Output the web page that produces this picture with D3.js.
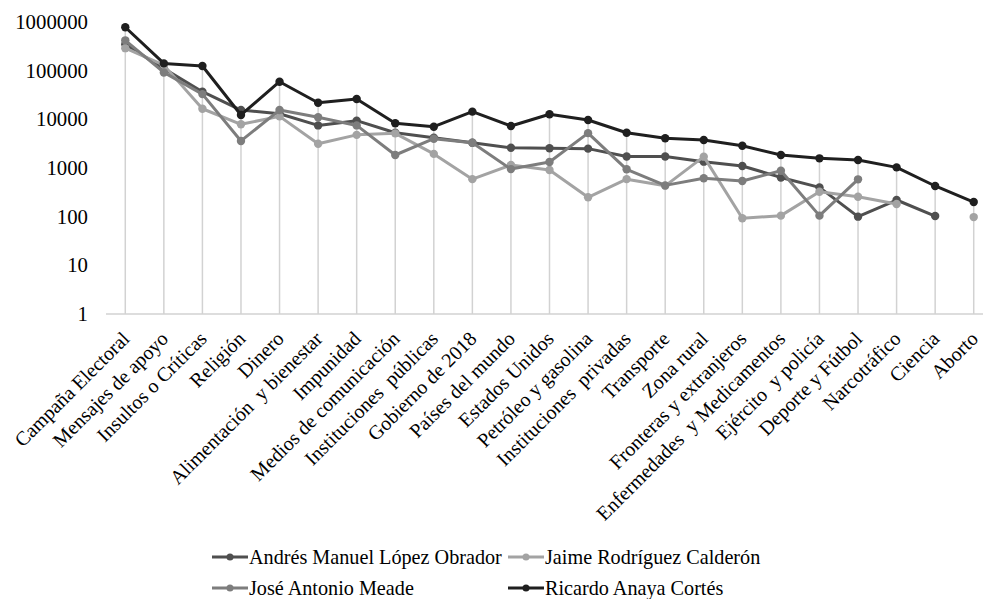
<!DOCTYPE html>
<html>
<head>
<meta charset="utf-8">
<script src="https://cdn.jsdelivr.net/npm/d3@7"></script>
<style>
  html, body { margin: 0; padding: 0; background: #fff; }
  svg { display: block; }
</style>
</head>
<body>
<svg id="chart" width="983" height="599"></svg>
<script>
// Topics, ordered by volume
const categories = [
  "Campaña Electoral", "Mensajes de apoyo", "Insultos o Críticas", "Religión", "Dinero",
  "Alimentación  y bienestar", "Impunidad", "Medios de comunicación", "Instituciones  públicas",
  "Gobierno de 2018", "Países del mundo", "Estados Unidos", "Petróleo y gasolina",
  "Instituciones  privadas", "Transporte", "Zona rural", "Fronteras y extranjeros",
  "Enfermedades  y Medicamentos", "Ejército  y policía", "Deporte y Fútbol", "Narcotráfico",
  "Ciencia", "Aborto"
];

// Counts per candidate (null = no data for that topic)
const amlo = [350000, 110000, 37000, 15500, 13000, 7500, 9400, 5300, 4200, 3300, 2600, 2540, 2500,
  1720, 1720, 1350, 1100, 640, 400, 100, 220, 103, null];
const jaime = [290000, 130000, 16500, 7900, 11500, 3150, 4800, 5150, 1950, 590, 1150, 910, 250,
  590, 430, 1710, 93, 105, 326, 257, 182, null, 98];
const meade = [420000, 92000, 33000, 3600, 15500, 11000, 7500, 1850, 4000, 3300, 950, 1330, 5200,
  940, 440, 614, 540, 880, 105, 585, null, null, null];
const anaya = [780000, 141000, 125000, 12300, 59300, 21900, 26200, 8300, 7060, 14400, 7300, 12700,
  9700, 5300, 4080, 3760, 2870, 1850, 1580, 1460, 1030, 427, 200];

const seriesNames = ["Andrés Manuel López Obrador", "Jaime Rodríguez Calderón",
  "José Antonio Meade", "Ricardo Anaya Cortés"];
const seriesValues = [amlo, jaime, meade, anaya];
const seriesColors = ["#4f4f4f", "#a3a3a3", "#7d7d7d", "#1f1f1f"];

const yTicks = [1, 10, 100, 1000, 10000, 100000, 1000000];

const serif = "'Liberation Serif', 'Times New Roman', Tinos, serif";

const svg = d3.select("#chart");

const x = d3.scalePoint().domain(categories).range([106, 993]).padding(0.5);
const y = d3.scaleLog().domain([1, 1000000]).range([314, 22]);

// Drop lines from each topic's highest value down to the axis
const maxima = categories.map((c, i) => d3.max(seriesValues, s => s[i]));
svg.append("g").selectAll("line").data(categories).join("line")
  .attr("x1", d => x(d)).attr("x2", d => x(d))
  .attr("y1", (d, i) => y(maxima[i])).attr("y2", y(1))
  .attr("stroke", "#d2d2d2").attr("stroke-width", 1.5);

// Horizontal axis line
svg.append("line")
  .attr("x1", 106).attr("x2", 993).attr("y1", y(1)).attr("y2", y(1))
  .attr("stroke", "#d2d2d2").attr("stroke-width", 1.5);

// Y axis labels
const yAxis = d3.axisLeft(y).tickValues(yTicks).tickFormat(d3.format("d")).tickSize(0).tickPadding(0);
const yg = svg.append("g").attr("transform", "translate(88,0)").call(yAxis);
yg.select(".domain").remove();
yg.selectAll("text").style("font-family", serif).attr("font-size", 20.8).attr("fill", "#000");

// X axis labels, rotated
const xAxis = d3.axisBottom(x).tickSize(0).tickPadding(0);
const xg = svg.append("g").attr("transform", `translate(0,${y(1)})`).call(xAxis);
xg.select(".domain").remove();
xg.selectAll("text")
  .style("font-family", serif)
  .attr("font-size", 20)
  .attr("fill", "#000")
  .attr("text-anchor", "end")
  .attr("dy", null).attr("y", 0)
  .attr("transform", "translate(5,26) rotate(-45)")
  .attr("xml:space", "preserve")
  .style("white-space", "pre");

// Series lines and markers
const line = d3.line()
  .defined(d => d.v != null)
  .x(d => x(d.c)).y(d => y(d.v));

seriesValues.forEach((vals, k) => {
  const pts = vals.map((v, i) => ({ c: categories[i], v }));
  svg.append("path")
    .datum(pts)
    .attr("d", line)
    .attr("fill", "none")
    .attr("stroke", seriesColors[k])
    .attr("stroke-width", 3)
    .attr("stroke-linejoin", "round");
  svg.append("g").selectAll("circle").data(pts.filter(d => d.v != null)).join("circle")
    .attr("cx", d => x(d.c)).attr("cy", d => y(d.v)).attr("r", 4.2)
    .attr("fill", seriesColors[k]);
});

// Legend
const legendItems = [
  { name: seriesNames[0], color: seriesColors[0], lx: 212, ly: 557 },
  { name: seriesNames[1], color: seriesColors[1], lx: 508, ly: 557 },
  { name: seriesNames[2], color: seriesColors[2], lx: 212, ly: 588 },
  { name: seriesNames[3], color: seriesColors[3], lx: 508, ly: 588 }
];
const lg = svg.append("g").selectAll("g").data(legendItems).join("g")
  .attr("transform", d => `translate(${d.lx},${d.ly})`);
lg.append("line").attr("x1", 0).attr("x2", 36).attr("y1", 0).attr("y2", 0)
  .attr("stroke", d => d.color).attr("stroke-width", 3);
lg.append("circle").attr("cx", 18).attr("cy", 0).attr("r", 3.5).attr("fill", d => d.color);
lg.append("text").attr("x", 37).attr("y", 0).attr("dy", "0.35em")
  .style("font-family", serif)
  .attr("font-size", 20.2).attr("fill", "#000").text(d => d.name);
</script>
</body>
</html>
